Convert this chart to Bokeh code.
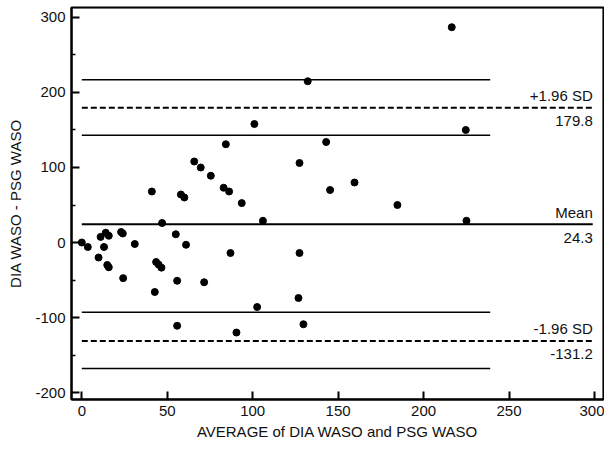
from bokeh.plotting import figure
from bokeh.models import Range1d, PrintfTickFormatter, BoxAnnotation, FixedTicker
from bokeh.embed import file_html
from bokeh.resources import INLINE
from bokeh.core.properties import value

# ---- data ----
avg = [0, 3.5, 9.8, 11, 13, 14, 15.8, 14.9, 15.8, 23, 24, 24.2, 31, 41, 42.7,
       43.5, 45, 46.6, 47, 55, 55.8, 55.8, 58, 60, 61, 65.8, 69.6, 71.6, 75.5,
       83, 84.3, 86.2, 87, 90.5, 93.6, 101, 102.6, 106, 127.4, 127.4, 126.8,
       129.7, 132.2, 143, 145.3, 159.6, 184.7, 216.5, 224.7, 225.1]
diff = [0, -6, -20, 7.5, -6, 13, 9, -30, -33, 14, 12, -47.5, -2, 68, -66,
        -26, -29.5, -33.5, 26, 11, -51, -111, 64, 60, -3, 108, 100, -53, 89,
        73, 131, 68, -14, -120, 52.5, 158, -86, 29, 106, -14, -74,
        -109, 215, 134, 70, 80, 50, 287, 150, 29]

mean_diff = 24.3
upper_loa = 179.8
lower_loa = -131.2
upper_ci = [143, 217]
lower_ci = [-168, -93]
line_x0 = 0
limit_x1 = 299
ci_x1 = 239

x_ticks = [0, 50, 100, 150, 200, 250, 300]
y_ticks = [-200, -100, 0, 100, 200, 300]
y_minor_ticks = [-150, -50, 50, 150, 250]

limit_labels_above = ["+1.96 SD", "Mean", "-1.96 SD"]
limit_values = [upper_loa, mean_diff, lower_loa]
limit_labels_below = ["179.8", "24.3", "-131.2"]

FONT = "Liberation Sans"
TXT = "#111111"

xr = Range1d(-6.03, 305.3)
yr = Range1d(-209.3, 313.3)

p = figure(width=604, height=442, output_backend="svg", toolbar_location=None,
           x_range=xr, y_range=yr,
           min_border_left=71, min_border_right=1, min_border_top=7,
           min_border_bottom=42)
p.background_fill_color = None
p.border_fill_color = None
p.grid.visible = False
p.outline_line_color = "black"
p.outline_line_width = 2

p.xaxis.ticker = FixedTicker(ticks=x_ticks)
p.yaxis.ticker = FixedTicker(ticks=y_ticks, minor_ticks=y_minor_ticks)
for ax in (p.xaxis[0], p.yaxis[0]):
    ax.formatter = PrintfTickFormatter(format="%d")
    ax.axis_line_width = 2
    ax.axis_line_color = "black"
    ax.major_tick_in = 8
    ax.major_tick_out = 0
    ax.minor_tick_in = 4
    ax.minor_tick_out = 0
    ax.major_tick_line_color = "black"
    ax.minor_tick_line_color = "black"
    ax.major_tick_line_width = 2
    ax.minor_tick_line_width = 1.5
    ax.major_label_text_font = FONT
    ax.major_label_text_font_size = "15px"
    ax.major_label_text_color = TXT
    ax.axis_label_text_font = FONT
    ax.axis_label_text_font_size = "15px"
    ax.axis_label_text_font_style = "normal"
    ax.axis_label_text_color = TXT
    ax.major_label_standoff = 6
p.xaxis.axis_label = "AVERAGE of DIA WASO and PSG WASO"
p.yaxis.axis_label = "DIA WASO - PSG WASO"
p.xaxis.axis_label_standoff = 4
p.yaxis.axis_label_standoff = 8

# frame border
p.add_layout(BoxAnnotation(fill_alpha=0, line_color="black", line_width=2))

# confidence-interval lines of limits
ci_vals = upper_ci + lower_ci
p.segment(x0=[line_x0] * len(ci_vals), y0=ci_vals, x1=[ci_x1] * len(ci_vals),
          y1=ci_vals, line_color="black", line_width=1.5)
# limits of agreement (dashed)
p.segment(x0=[line_x0, line_x0], y0=[upper_loa, lower_loa],
          x1=[limit_x1, limit_x1], y1=[upper_loa, lower_loa],
          line_color="black", line_width=2, line_dash="6 3")
# mean line
p.segment(x0=[line_x0], y0=[mean_diff], x1=[limit_x1], y1=[mean_diff],
          line_color="black", line_width=2)

p.scatter(avg, diff, size=7, marker="circle", fill_color="black",
          line_color="black")

p.text(x=[limit_x1] * 3, y=limit_values, text=limit_labels_above,
       text_align="right", text_baseline="alphabetic", y_offset=-12,
       text_font=value(FONT), text_font_size="15px", text_color=TXT)
p.text(x=[limit_x1] * 3, y=limit_values, text=limit_labels_below,
       text_align="right", text_baseline="alphabetic", y_offset=13.5,
       text_font=value(FONT), text_font_size="15px", text_color=TXT)

open("out.html", "w").write(file_html(p, INLINE))
